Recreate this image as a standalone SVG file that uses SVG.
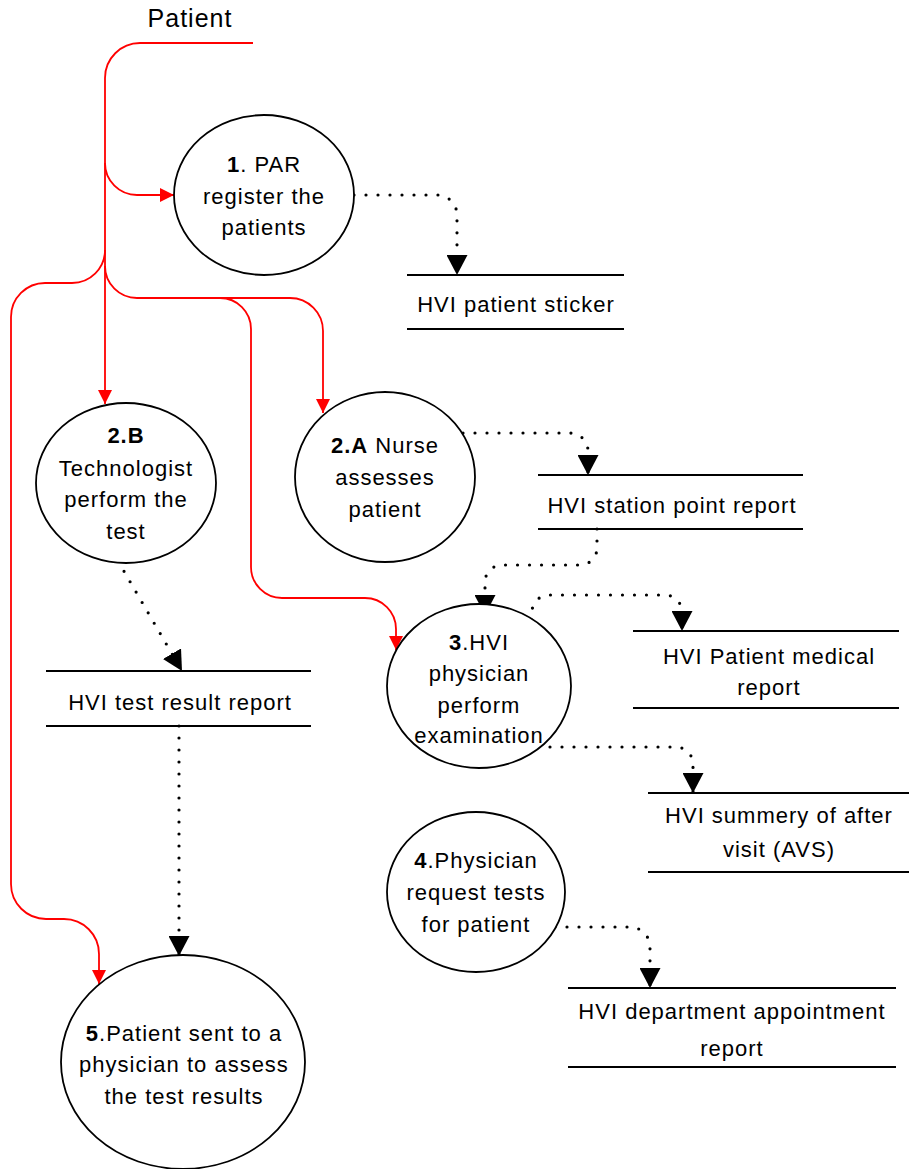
<svg xmlns="http://www.w3.org/2000/svg" width="909" height="1169" viewBox="0 0 909 1169">
<style>
text{font-family:"Liberation Sans",Arial,sans-serif;font-size:22px;letter-spacing:1px;fill:#000;text-anchor:middle}
.b{font-weight:bold}
.node ellipse{fill:#fff;stroke:#000;stroke-width:1.8}
.store line{stroke:#000;stroke-width:1.8}
.red{fill:none;stroke:#ff0000;stroke-width:1.8}
.dot{fill:none;stroke:#000;stroke-width:3.2;stroke-linecap:round;stroke-dasharray:0 12}
</style>
<defs>
<marker id="ra" markerUnits="userSpaceOnUse" viewBox="0 0 14 14" refX="14" refY="7" markerWidth="14" markerHeight="14" orient="auto"><path d="M0,0 L14,7 L0,14 z" fill="#ff0000" stroke="none"/></marker>
<marker id="ba" markerUnits="userSpaceOnUse" viewBox="0 0 20 21" refX="20" refY="10.5" markerWidth="20" markerHeight="21" orient="auto"><path d="M0,0 L20,10.5 L0,21 z" fill="#000" stroke="none"/></marker>
</defs>
<text x="190" y="27" style="font-size:25px">Patient</text>
<g id="connectors">
<path class="red" d="M253,43 H140 A35,35 0 0 0 105,78 V404" marker-end="url(#ra)"/>
<path class="red" d="M105,163 A32,32 0 0 0 137,195 H174" marker-end="url(#ra)"/>
<path class="red" d="M105,250 A33,33 0 0 1 72,283 H45 A34,34 0 0 0 11,317 V884 A35,35 0 0 0 46,919 H64 A35,35 0 0 1 99,954 V984" marker-end="url(#ra)"/>
<path class="red" d="M105,266 A32,32 0 0 0 137,298 H290 A33,33 0 0 1 323,331 V413" marker-end="url(#ra)"/>
<path class="red" d="M220,298 A31,31 0 0 1 251,329 V567 A31,31 0 0 0 282,598 H365 A31,31 0 0 1 396,629 V650" marker-end="url(#ra)"/>
<path class="dot" d="M354,195 H437 A20,20 0 0 1 457,215 V275" marker-end="url(#ba)"/>
<path class="dot" d="M463,433 H570 A18,18 0 0 1 588,451 V475" marker-end="url(#ba)"/>
<path class="dot" d="M597,529 V548 A17,17 0 0 1 580,565 H502 A17,17 0 0 0 485,582 V615" marker-end="url(#ba)"/>
<path class="dot" d="M532,620 V612 A17,17 0 0 1 549,595 H665 A17,17 0 0 1 682,612 V631" marker-end="url(#ba)"/>
<path class="dot" d="M550,747 H676 A17,17 0 0 1 693,764 V793" marker-end="url(#ba)"/>
<path class="dot" d="M118,561 L182,671" marker-end="url(#ba)"/>
<path class="dot" d="M179,726 V956" marker-end="url(#ba)"/>
<path class="dot" d="M555,927 H630 A20,20 0 0 1 650,947 V988" marker-end="url(#ba)"/>
</g>
<g id="n1" class="node"><ellipse cx="264" cy="195" rx="90" ry="80"/>
<text x="264" y="172"><tspan class="b">1</tspan>. PAR</text><text x="264" y="204">register the</text><text x="264" y="235">patients</text></g>
<g id="n2b" class="node"><ellipse cx="126" cy="483" rx="90" ry="80"/>
<text x="126" y="443" class="b">2.B</text><text x="126" y="476">Technologist</text><text x="126" y="507">perform the</text><text x="126" y="539">test</text></g>
<g id="n2a" class="node"><ellipse cx="385" cy="477" rx="90" ry="85"/>
<text x="385" y="453"><tspan class="b">2.A</tspan> Nurse</text><text x="385" y="485">assesses</text><text x="385" y="517">patient</text></g>
<g id="n3" class="node"><ellipse cx="479" cy="686" rx="92" ry="82"/>
<text x="479" y="650"><tspan class="b">3</tspan>.HVI</text><text x="479" y="681">physician</text><text x="479" y="713">perform</text><text x="479" y="743">examination</text></g>
<g id="n4" class="node"><ellipse cx="476" cy="892" rx="89" ry="80"/>
<text x="476" y="868"><tspan class="b">4</tspan>.Physician</text><text x="476" y="900">request tests</text><text x="476" y="932">for patient</text></g>
<g id="n5" class="node"><ellipse cx="183" cy="1062" rx="122" ry="107"/>
<text x="184" y="1041"><tspan class="b">5</tspan>.Patient sent to a</text><text x="184" y="1072">physician to assess</text><text x="184" y="1104">the test results</text></g>
<g id="s1" class="store"><line x1="407" y1="275" x2="624" y2="275"/><line x1="407" y1="329" x2="624" y2="329"/>
<text x="516" y="312">HVI patient sticker</text></g>
<g id="s2" class="store"><line x1="538" y1="475" x2="803" y2="475"/><line x1="538" y1="529" x2="803" y2="529"/>
<text x="672" y="513">HVI station point report</text></g>
<g id="s3" class="store"><line x1="633" y1="631" x2="899" y2="631"/><line x1="633" y1="708" x2="899" y2="708"/>
<text x="769" y="664">HVI Patient medical</text><text x="769" y="695">report</text></g>
<g id="s4" class="store"><line x1="648" y1="793" x2="909" y2="793"/><line x1="648" y1="872" x2="909" y2="872"/>
<text x="779" y="823">HVI summery of after</text><text x="779" y="857">visit (AVS)</text></g>
<g id="s5" class="store"><line x1="568" y1="988" x2="896" y2="988"/><line x1="568" y1="1067" x2="896" y2="1067"/>
<text x="732" y="1019">HVI department appointment</text><text x="732" y="1056">report</text></g>
<g id="s6" class="store"><line x1="46" y1="671" x2="311" y2="671"/><line x1="46" y1="726" x2="311" y2="726"/>
<text x="180" y="710">HVI test result report</text></g>
</svg>
